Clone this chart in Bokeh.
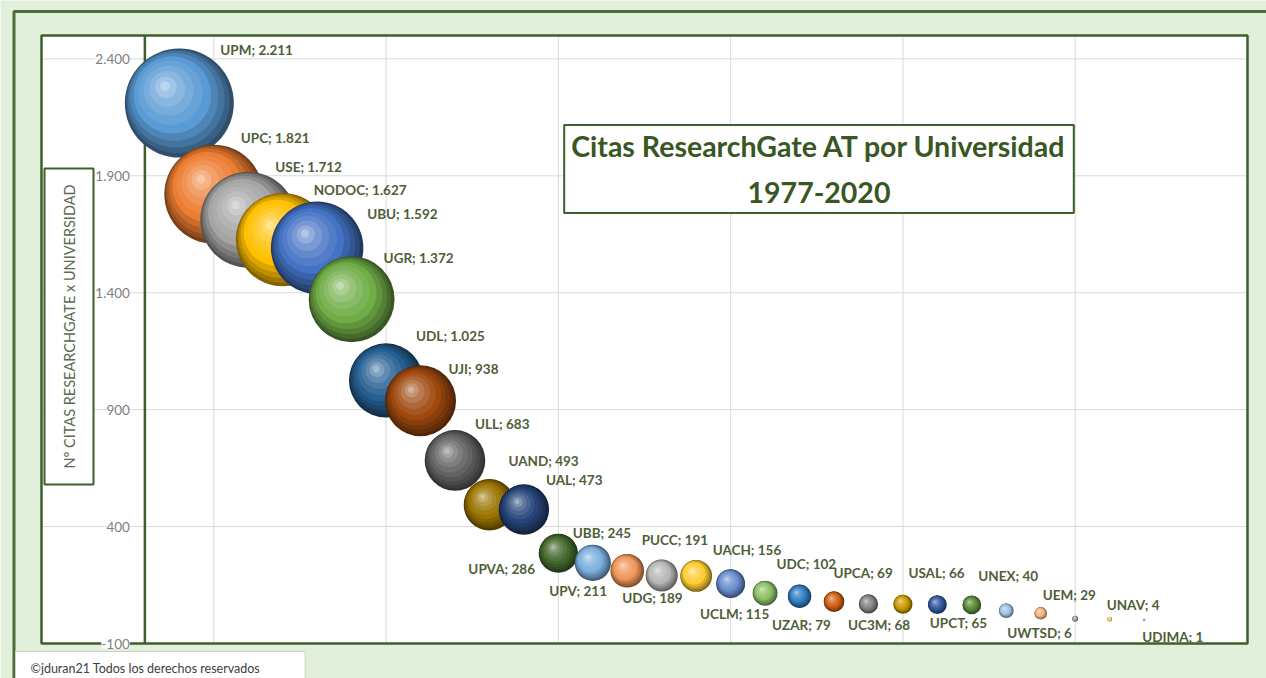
import math
from bokeh.plotting import figure
from bokeh.models import (ColumnDataSource, Range1d, Label, BoxAnnotation, LabelSet)
from bokeh.core.properties import value
from bokeh.embed import file_html
from bokeh.resources import INLINE

# ---------------- data ----------------
universities = ["UPM", "UPC", "USE", "NODOC", "UBU", "UGR", "UDL", "UJI", "ULL", "UAND",
                "UAL", "UPVA", "UBB", "UPV", "PUCC", "UDG", "UACH", "UCLM", "UDC", "UZAR",
                "UPCA", "UC3M", "USAL", "UPCT", "UNEX", "UEM", "UWTSD", "UNAV", "UDIMA"]
citations = [2211, 1821, 1712, 1627, 1592, 1372, 1025, 938, 683, 493,
             473, 286, 245, 211, 191, 189, 156, 115, 102, 79,
             69, 68, 66, 65, 40, 29, 6, 4, 1]
rank = list(range(1, len(universities) + 1))
y_ticks = [-100, 400, 900, 1400, 1900, 2400]
y_tick_labels = ["-100", "400", "900", "1.400", "1.900", "2.400"]
x_grid_ticks = [-3, 2, 7, 12, 17, 22, 27, 32]

# ---------------- styles ----------------
colors = ["#5B9BD5", "#ED7D31", "#A5A5A5", "#FFC000", "#4472C4", "#70AD47", "#255E91",
          "#9E480E", "#636363", "#997300", "#264478", "#43682B", "#7CAFDD", "#F1975A",
          "#B7B7B7", "#FFCD33", "#698ED0", "#8CC168", "#327DC2", "#D26012", "#848484",
          "#CC9A00", "#335AA1", "#5A8A39", "#9DC3E6", "#F4B183", "#A5A5A5", "#FFD966",
          "#8FAADC"]
label_dx = [41, 27, 27, 31, 50, 32, 30, 28, 20, 19, 22, -90, -20, -78, -20, -74, -18,
            -65, -23, -62, -35, -55, -29, -42, -28, 2, -68, -3, -2]
label_dy = [-53, -56, -53, -50, -34, -41, -44, -32, -36, -44, -30, 16, -30, 20, -35, 22,
            -34, 21, -32, 23, -31, 21, -32, 18, -35, -18, 14, -14, 17]

DARK_GREEN = "#3f5f2a"
BORDER_GREEN = "#4f6d3a"
LABEL_GREEN = "#4e5e38"
TITLE_GREEN = "#385723"
BG_GREEN = "#e2efda"
GRID_GRAY = "#d9d9d9"

W, H = 1266, 678
# plot area (white box) in page pixels
PL, PR, PT, PB = 41, 1247, 35, 643
X0, X1 = -3, 32
Y0, Y1 = -100, 2500
px_x = (PR - PL) / (X1 - X0)
px_y = (PB - PT) / (Y1 - Y0)
MAX_D = 109.0


def at_x(px):
    """page pixel -> data x (for annotation placement)"""
    return X0 + (px - PL) / px_x


def at_y(py):
    """page pixel -> data y (for annotation placement)"""
    return Y1 - (py - PT) / px_y


def mix(hexcol, target, t):
    hexcol = hexcol.lstrip("#")
    r, g, b = (int(hexcol[i:i + 2], 16) for i in (0, 2, 4))
    tr, tg, tb = target
    r = round(r + (tr - r) * t)
    g = round(g + (tg - g) * t)
    b = round(b + (tb - b) * t)
    return "#%02x%02x%02x" % (r, g, b)


BLACK, WHITE = (0, 0, 0), (255, 255, 255)
# shading layers: (size fraction, offset fraction, target colour, mix amount)
layers = [
    (1.00, 0.00, BLACK, 0.50),
    (0.95, 0.03, BLACK, 0.38),
    (0.89, 0.07, BLACK, 0.26),
    (0.81, 0.11, BLACK, 0.14),
    (0.71, 0.15, BLACK, 0.0),
    (0.59, 0.19, WHITE, 0.08),
    (0.46, 0.23, WHITE, 0.17),
    (0.33, 0.26, WHITE, 0.28),
    (0.20, 0.29, WHITE, 0.42),
    (0.09, 0.31, WHITE, 0.58),
]

bx, by, bs, bc = [], [], [], []
for xi, v, col in zip(rank, citations, colors):
    d = MAX_D * math.sqrt(v / max(citations))
    r = d / 2
    for sf, of, tgt, amt in layers:
        bx.append(xi - of * r * 0.85 / px_x)
        by.append(v + of * r / px_y)
        bs.append(d * sf)
        bc.append(mix(col, tgt, amt))
bubbles = ColumnDataSource(dict(x=bx, y=by, size=bs, color=bc))

labels = ColumnDataSource(dict(
    x=rank, y=citations,
    text=["%s; %s" % (n, f"{v:,}".replace(",", ".")) for n, v in zip(universities, citations)],
    dx=label_dx, dy=label_dy))

ticks_src = ColumnDataSource(dict(x=[0] * len(y_ticks), y=y_ticks, text=y_tick_labels))

p = figure(width=W, height=H,
           x_range=Range1d(at_x(0), at_x(W)), y_range=Range1d(at_y(H), at_y(0)),
           x_axis_location=None, y_axis_location=None, toolbar_location=None,
           output_backend="svg", min_border=0)
p.grid.visible = False
p.background_fill_color = BG_GREEN
p.border_fill_color = BG_GREEN
p.outline_line_color = None

# white plot area
p.add_layout(BoxAnnotation(left=X0, right=X1, bottom=Y0, top=Y1, fill_color="white",
                           fill_alpha=1, line_color=None, level="underlay"))

# grid lines (inside the plot area only)
inner_x = [t for t in x_grid_ticks if X0 < t < X1]
inner_y = [t for t in y_ticks if Y0 < t < Y1]
p.segment(x0=inner_x, y0=[Y0] * len(inner_x), x1=inner_x, y1=[Y1] * len(inner_x),
          line_color=GRID_GRAY, line_width=1)
p.segment(x0=[X0] * len(inner_y), y0=inner_y, x1=[X1] * len(inner_y), y1=inner_y,
          line_color=GRID_GRAY, line_width=1)

# y axis line at x = 0
p.segment(x0=[0], y0=[Y0], x1=[0], y1=[Y1], line_color=DARK_GREEN, line_width=2.5)

# bubbles
p.scatter(x="x", y="y", size="size", fill_color="color", line_color=None, source=bubbles)

# data labels
p.text(x="x", y="y", text="text", source=labels, x_offset="dx", y_offset="dy",
       text_align="left", text_baseline="middle", text_font=value("Lato"),
       text_font_style="bold", text_font_size="13.5px", text_color=LABEL_GREEN)

# plot area border
p.add_layout(BoxAnnotation(left=X0, right=X1, bottom=Y0, top=Y1, fill_color=None,
                           line_color=DARK_GREEN, line_alpha=1, line_width=2.5))

# outer chart border (top and left visible)
p.add_layout(BoxAnnotation(left=at_x(13.5), right=at_x(W + 20), top=at_y(11),
                           bottom=at_y(H + 20), fill_color=None,
                           line_color=BORDER_GREEN, line_alpha=1, line_width=3))

# y tick labels
p.add_layout(LabelSet(x="x", y="y", text="text", source=ticks_src, x_offset=-15,
                      text_align="right", text_baseline="middle", text_font=value("Lato"),
                      text_font_size="13.5px", text_color="#808080",
                      background_fill_color="white"))

# chart title box
p.add_layout(Label(x=at_x(818.5), y=at_y(168.5),
                   text="Citas ResearchGate AT por Universidad\n1977-2020",
                   text_align="center", text_baseline="middle", text_font="Lato",
                   text_font_style="bold", text_font_size="28.5px", text_color=TITLE_GREEN,
                   text_line_height=1.35, background_fill_color="white",
                   border_line_color=DARK_GREEN, border_line_width=2,
                   padding=dict(left=7, right=7, top=4, bottom=4)))

# y axis title box
p.add_layout(Label(x=at_x(68.5), y=at_y(326), text="Nº CITAS RESEARCHGATE x UNIVERSIDAD",
                   angle=math.pi / 2, text_align="center", text_baseline="middle",
                   text_font="Lato", text_font_size="14.5px", text_color="#5e6a52",
                   background_fill_color="white", border_line_color=DARK_GREEN,
                   border_line_width=2, padding=16))

# copyright box
p.add_layout(Label(x=at_x(15), y=at_y(669), text="©jduran21 Todos los derechos reservados",
                   text_align="left", text_baseline="middle", text_font="Lato",
                   text_font_size="12.5px", text_color="#404040",
                   background_fill_color="white", border_line_color="#d0d0d0",
                   border_line_width=1,
                   padding=dict(left=15, right=45, top=9, bottom=12)))

open("out.html", "w").write(file_html(p, INLINE))
